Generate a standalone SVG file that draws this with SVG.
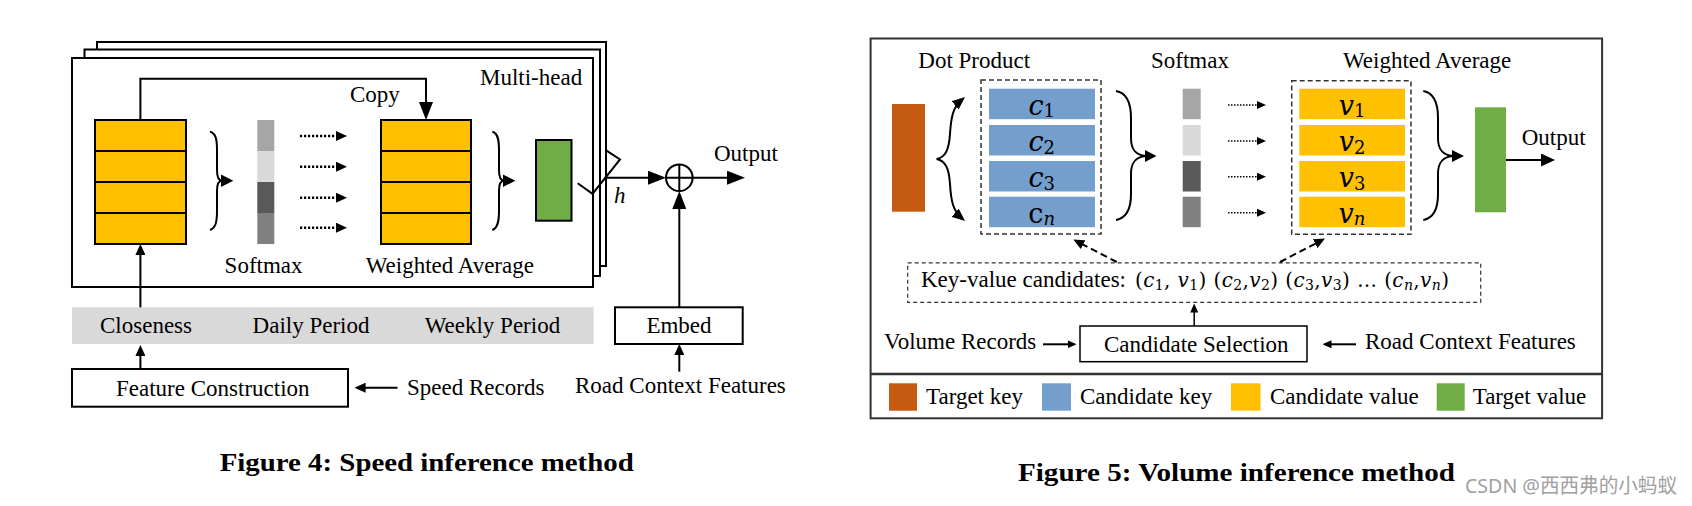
<svg xmlns="http://www.w3.org/2000/svg" width="1692" height="506" viewBox="0 0 1692 506">
<defs>
<style>
text{font-family:"Liberation Serif","Times New Roman",serif;font-size:23px;fill:#000}
.it{font-style:italic}
.cap{font-weight:bold;font-size:25px}
.ln{stroke:#000;stroke-width:2;fill:none}
.lt{stroke:#000;stroke-width:1.5;fill:none}
.box{fill:#fff;stroke:#000;stroke-width:2}
.boxt{fill:#fff;stroke:#000;stroke-width:1.5}
.yel{fill:#FFC000}
.blu{fill:#749FCD}
.grn{fill:#70AD47}
.org{fill:#C55A11}
.dot{stroke:#000;stroke-width:2.5;stroke-dasharray:2.2,1.8;fill:none}
.dott{stroke:#000;stroke-width:1.5;stroke-dasharray:1.5,1.5;fill:none}
.dsh{stroke:#000;stroke-width:2;stroke-dasharray:7,4;fill:none}
.dbox{fill:none;stroke:#333;stroke-width:1.5;stroke-dasharray:5,3}
.dboxt{fill:none;stroke:#333;stroke-width:1.2;stroke-dasharray:4,3}
.blk{fill:#000}
.m{font-family:"DejaVu Serif",serif;font-size:27px}
.ms{font-size:18px}
.mk{font-family:"DejaVu Serif",serif;font-size:20px}
.mks{font-size:14px}
</style>
<marker id="ahL" markerUnits="userSpaceOnUse" markerWidth="18" markerHeight="14" viewBox="0 0 18 14" refX="15" refY="7" orient="auto"><path d="M0,0 L18,7 L0,14 z" fill="#000"/></marker>
<marker id="ahR" markerUnits="userSpaceOnUse" markerWidth="14" markerHeight="13" viewBox="0 0 14 13" refX="11" refY="6.5" orient="auto"><path d="M0,0 L14,6.5 L0,13 z" fill="#000"/></marker>
<marker id="ahM" markerUnits="userSpaceOnUse" markerWidth="11" markerHeight="10" viewBox="0 0 11 10" refX="8" refY="5" orient="auto"><path d="M0,0 L11,5 L0,10 z" fill="#000"/></marker>
<marker id="ahS" markerUnits="userSpaceOnUse" markerWidth="9" markerHeight="8" viewBox="0 0 9 8" refX="7" refY="4" orient="auto"><path d="M0,0 L9,4 L0,8 z" fill="#000"/></marker>
<marker id="ahB" markerUnits="userSpaceOnUse" markerWidth="13" markerHeight="11" viewBox="0 0 13 11" refX="9" refY="5.5" orient="auto"><path d="M0,0 L13,5.5 L0,11 z" fill="#000"/></marker>
</defs>
<rect width="1692" height="506" fill="#fff"/>

<!-- ============ Figure 4 ============ -->
<g id="multihead-stack">
<rect class="box" x="97" y="42" width="509" height="224"/>
<rect class="box" x="84.5" y="49.5" width="515.5" height="226.5"/>
<rect class="box" x="72" y="58" width="521" height="229"/>
<text x="480" y="85">Multi-head</text>
</g>

<g id="keys-left">
<rect class="yel" x="95" y="120" width="91" height="124"/>
<path class="ln" d="M95,120 H186 V244 H95 Z M95,151 H186 M95,182 H186 M95,213 H186"/>
</g>

<g id="softmax-bar">
<rect x="257.3" y="120" width="17" height="31" fill="#A6A6A6"/>
<rect x="257.3" y="151" width="17" height="31" fill="#D9D9D9"/>
<rect x="257.3" y="182" width="17" height="31" fill="#595959"/>
<rect x="257.3" y="213" width="17" height="31" fill="#808080"/>
<text x="224.6" y="273">Softmax</text>
</g>

<g id="values-right">
<rect class="yel" x="381" y="120" width="90" height="124"/>
<path class="ln" d="M381,120 H471 V244 H381 Z M381,151 H471 M381,182 H471 M381,213 H471"/>
<text x="365.7" y="273">Weighted Average</text>
</g>

<g id="green-out">
<rect class="grn" x="536" y="140" width="35.5" height="80.7" stroke="#000" stroke-width="2"/>
</g>

<g id="concat-sum">
<circle cx="679.3" cy="177.7" r="13.3" fill="#fff" stroke="#000" stroke-width="2"/>
<path class="ln" d="M666,177.7 H692.6 M679.3,164.4 V191"/>
<text x="614" y="203" class="it">h</text>
<text x="714" y="161">Output</text>
</g>

<g id="feature-band">
<rect x="72" y="307.3" width="521.6" height="36.7" fill="#D9D9D9"/>
<text x="100" y="332.7">Closeness</text>
<text x="252.6" y="332.7">Daily Period</text>
<text x="424.7" y="332.7">Weekly Period</text>
</g>

<g id="feature-construction">
<rect class="box" x="72" y="369" width="276" height="37.7"/>
<text x="116" y="396">Feature Construction</text>
</g>
<g id="speed-records"><text x="407" y="395">Speed Records</text></g>

<g id="embed">
<rect class="box" x="615" y="307.3" width="127.7" height="36.7"/>
<text x="679" y="333" text-anchor="middle">Embed</text>
</g>
<g id="road-context-4"><text x="575" y="393">Road Context Features</text></g>

<g id="connectors-4">
<path class="ln" d="M140.4,120 V78.7 H426 V117" marker-end="url(#ahL)"/>
<text x="350" y="101.7">Copy</text>
<path class="ln" d="M210,131.7 C216,133 217,140 217,150 V170 C217,177 218.5,180.7 222,180.7 C218.5,180.7 217,184 217,191 V211 C217,221 216,228 210,230"/>
<path class="blk" d="M221,174.5 L233.3,180.7 L221,186.9 Z"/>
<path class="ln" d="M492.3,131.7 C498,133 499,140 499,150 V170 C499,177 500.5,180.7 504,180.7 C500.5,180.7 499,184 499,191 V211 C499,221 498,228 492.3,230"/>
<path class="blk" d="M503,174.5 L515.3,180.7 L503,186.9 Z"/>
<path class="dot" d="M300,136 H344" marker-end="url(#ahM)"/>
<path class="dot" d="M300,166.7 H344" marker-end="url(#ahM)"/>
<path class="dot" d="M300,197.7 H344" marker-end="url(#ahM)"/>
<path class="dot" d="M300,227.7 H344" marker-end="url(#ahM)"/>
<polyline class="ln" points="577.7,183.3 592.5,193.8 620,159.5 606.5,150.7"/>
<path class="ln" d="M604.5,177.7 H663" marker-end="url(#ahL)"/>
<path class="ln" d="M692.6,177.7 H742" marker-end="url(#ahL)"/>
<path class="ln" d="M679.3,307.3 V194" marker-end="url(#ahL)"/>
<path class="ln" d="M679.3,371.7 V347" marker-end="url(#ahM)"/>
<path class="ln" d="M140.4,307.3 V247" marker-end="url(#ahM)"/>
<path class="ln" d="M140.4,369 V348" marker-end="url(#ahM)"/>
<path class="ln" d="M397.5,387.7 H357.6" marker-end="url(#ahM)"/>
</g>

<g id="caption-4"><text class="cap" x="219.7" y="470.7" textLength="414" lengthAdjust="spacingAndGlyphs">Figure 4: Speed inference method</text></g>

<!-- ============ Figure 5 ============ -->
<g id="frame-5">
<rect x="870.6" y="38.5" width="731.5" height="379.8" fill="none" stroke="#333" stroke-width="2"/>
<path d="M870.6,374 H1602.1" stroke="#333" stroke-width="2.5"/>
</g>

<g id="target-key">
<rect class="org" x="892" y="104" width="33" height="107.7"/>
<text x="918.3" y="68.3">Dot Product</text>
</g>

<g id="candidate-keys">
<rect class="dbox" x="981" y="80" width="120" height="154"/>
<rect class="blu" x="989" y="88.7" width="106" height="30.5"/>
<rect class="blu" x="989" y="125" width="106" height="30.5"/>
<rect class="blu" x="989" y="161" width="106" height="30.5"/>
<rect class="blu" x="989" y="196.7" width="106" height="30.5"/>
<text class="m" x="1041.7" y="114.7" text-anchor="middle"><tspan class="it">c</tspan><tspan class="ms" dy="2.5">1</tspan></text>
<text class="m" x="1041.7" y="151" text-anchor="middle"><tspan class="it">c</tspan><tspan class="ms" dy="2.5">2</tspan></text>
<text class="m" x="1041.7" y="187" text-anchor="middle"><tspan class="it">c</tspan><tspan class="ms" dy="2.5">3</tspan></text>
<text class="m" x="1041.7" y="222.7" text-anchor="middle">c<tspan class="ms it" dy="2.5">n</tspan></text>
</g>

<g id="softmax-5">
<text x="1151" y="68.3">Softmax</text>
<rect x="1182.7" y="88.7" width="18" height="30.5" fill="#A6A6A6"/>
<rect x="1182.7" y="125" width="18" height="30.5" fill="#D9D9D9"/>
<rect x="1182.7" y="161" width="18" height="30.5" fill="#595959"/>
<rect x="1182.7" y="196.7" width="18" height="30.5" fill="#808080"/>
</g>

<g id="candidate-values">
<text x="1343" y="68.3">Weighted Average</text>
<rect class="dbox" x="1291.7" y="80.7" width="119.3" height="153.6"/>
<rect class="yel" x="1299.3" y="88.7" width="105.7" height="30.5"/>
<rect class="yel" x="1299.3" y="125" width="105.7" height="30.5"/>
<rect class="yel" x="1299.3" y="161" width="105.7" height="30.5"/>
<rect class="yel" x="1299.3" y="196.7" width="105.7" height="30.5"/>
<text class="m" x="1352" y="114.7" text-anchor="middle"><tspan class="it">v</tspan><tspan class="ms" dy="2.5">1</tspan></text>
<text class="m" x="1352" y="151" text-anchor="middle"><tspan class="it">v</tspan><tspan class="ms" dy="2.5">2</tspan></text>
<text class="m" x="1352" y="187" text-anchor="middle"><tspan class="it">v</tspan><tspan class="ms" dy="2.5">3</tspan></text>
<text class="m" x="1352" y="222.7" text-anchor="middle"><tspan class="it">v</tspan><tspan class="ms it" dy="2.5">n</tspan></text>
</g>

<g id="target-value">
<rect class="grn" x="1475" y="107.3" width="31" height="105"/>
<text x="1521.7" y="145">Output</text>
</g>

<g id="key-value-candidates">
<rect class="dboxt" x="907.7" y="262.8" width="573" height="39.5"/>
<text x="921" y="286.7">Key-value candidates:</text>
<text class="mk" x="1135" y="286.7" textLength="314" lengthAdjust="spacing">(<tspan class="it">c</tspan><tspan class="mks" dy="3">1</tspan><tspan dy="-3">, </tspan><tspan class="it">v</tspan><tspan class="mks" dy="3">1</tspan><tspan dy="-3">) (</tspan><tspan class="it">c</tspan><tspan class="mks" dy="3">2</tspan><tspan dy="-3">,</tspan><tspan class="it">v</tspan><tspan class="mks" dy="3">2</tspan><tspan dy="-3">) (</tspan><tspan class="it">c</tspan><tspan class="mks" dy="3">3</tspan><tspan dy="-3">,</tspan><tspan class="it">v</tspan><tspan class="mks" dy="3">3</tspan><tspan dy="-3">) … (</tspan><tspan class="it">c</tspan><tspan class="mks it" dy="3">n</tspan><tspan dy="-3">,</tspan><tspan class="it">v</tspan><tspan class="mks it" dy="3">n</tspan><tspan dy="-3">)</tspan></text>
</g>

<g id="candidate-selection">
<rect class="boxt" x="1080" y="326" width="227" height="35.7"/>
<text x="1104" y="351.7">Candidate Selection</text>
</g>
<g id="volume-records"><text x="884" y="349.3">Volume Records</text></g>
<g id="road-context-5"><text x="1365" y="349.3">Road Context Features</text></g>

<g id="legend">
<rect class="org" x="889" y="383.3" width="28" height="27.4"/>
<text x="926" y="404">Target key</text>
<rect class="blu" x="1042" y="383.3" width="29" height="27.4"/>
<text x="1080" y="404">Candidate key</text>
<rect class="yel" x="1231" y="383.3" width="29.5" height="27.4"/>
<text x="1270" y="404">Candidate value</text>
<rect class="grn" x="1436.7" y="383.3" width="28" height="27.4"/>
<text x="1472.7" y="404">Target value</text>
</g>

<g id="connectors-5">
<path class="ln" d="M936.7,159 C946,157 949,149 950,134 C951,117 953,107 962,99.5" marker-end="url(#ahB)"/>
<path class="ln" d="M936.7,159 C946,161 949,169 950,184 C951,201 953,211 962,218.5" marker-end="url(#ahB)"/>
<path class="ln" d="M1116,91 C1127,93 1131,103 1131,118 V138 C1131,149 1135,155 1146,156 C1135,157 1131,163 1131,174 V194 C1131,209 1127,218 1116,220"/>
<path class="blk" d="M1145,150 L1156.5,156 L1145,162 Z"/>
<path class="ln" d="M1423.3,91 C1434,93 1438,103 1438,118 V138 C1438,149 1442,155 1453,156 C1442,157 1438,163 1438,174 V194 C1438,209 1434,218 1423.3,220"/>
<path class="blk" d="M1452,150 L1464,156 L1452,162 Z"/>
<path class="dott" d="M1228,105 H1264" marker-end="url(#ahS)"/>
<path class="dott" d="M1228,141 H1264" marker-end="url(#ahS)"/>
<path class="dott" d="M1228,176.7 H1264" marker-end="url(#ahS)"/>
<path class="dott" d="M1228,212.7 H1264" marker-end="url(#ahS)"/>
<path class="ln" d="M1506,160 H1552" marker-end="url(#ahR)"/>
<path class="dsh" d="M1116.7,262 L1076,241" marker-end="url(#ahM)"/>
<path class="dsh" d="M1280,262 L1322.3,240" marker-end="url(#ahM)"/>
<path class="lt" d="M1194.2,326 V305.5" marker-end="url(#ahS)"/>
<path class="ln" d="M1043,344.3 H1074.5" marker-end="url(#ahS)"/>
<path class="ln" d="M1356,344.3 H1324.5" marker-end="url(#ahS)"/>
</g>

<g id="caption-5"><text class="cap" x="1018" y="481" textLength="437" lengthAdjust="spacingAndGlyphs">Figure 5: Volume inference method</text></g>
<g id="watermark"><text x="1465" y="493.3" style="font-family:'Noto Sans','Noto Sans CJK SC',sans-serif;font-size:20px;fill:#A0A0A0" textLength="212" lengthAdjust="spacingAndGlyphs">CSDN @西西弗的小蚂蚁</text></g>
</svg>
